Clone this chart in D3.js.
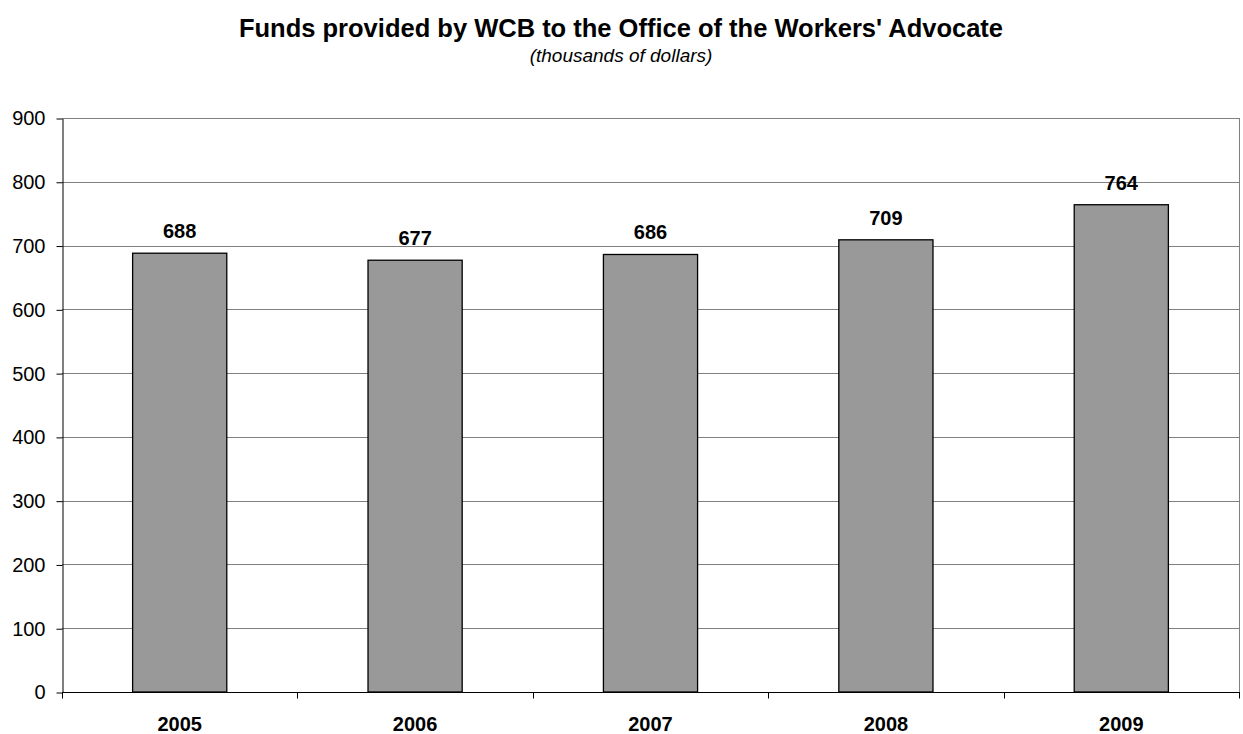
<!DOCTYPE html>
<html>
<head>
<meta charset="utf-8">
<script src="https://cdn.jsdelivr.net/npm/d3@7"></script>
<style>
  body { margin: 0; background: #fff; }
  text { font-family: "Liberation Sans", Arial, sans-serif; }
</style>
</head>
<body>
<svg id="chart" width="1243" height="734"></svg>
<script>
var years = ["2005", "2006", "2007", "2008", "2009"];
var funds = [688, 677, 686, 709, 764];
var yTicks = [0, 100, 200, 300, 400, 500, 600, 700, 800, 900];

var plotLeft = 62, plotRight = 1239, plotTop = 118, plotBottom = 692;

var svg = d3.select("#chart");

var x = d3.scaleBand().domain(years).range([plotLeft, plotRight]).paddingInner(0.6).paddingOuter(0.3);
var xOuter = d3.scaleBand().domain(years).range([plotLeft, plotRight]);
var y = d3.scaleLinear().domain([0, 900]).range([plotBottom, plotTop]);

// title
svg.append("text")
  .attr("x", 621).attr("y", 37)
  .attr("text-anchor", "middle")
  .style("font-size", "25.5px").style("font-weight", "bold")
  .text("Funds provided by WCB to the Office of the Workers' Advocate");
svg.append("text")
  .attr("x", 621).attr("y", 62)
  .attr("text-anchor", "middle")
  .style("font-size", "19px").style("font-style", "italic")
  .text("(thousands of dollars)");

// gridlines
svg.selectAll("line.grid")
  .data(yTicks.filter(function(d){ return d > 0; }))
  .enter().append("line")
  .attr("class", "grid")
  .attr("x1", plotLeft).attr("x2", plotRight)
  .attr("y1", function(d){ return Math.round(y(d)) + 0.5; })
  .attr("y2", function(d){ return Math.round(y(d)) + 0.5; })
  .attr("stroke", "#808080").attr("stroke-width", 1);

// right border
svg.append("line")
  .attr("x1", plotRight + 0.5).attr("x2", plotRight + 0.5)
  .attr("y1", plotTop).attr("y2", plotBottom)
  .attr("stroke", "#808080");

// bars
svg.selectAll("rect.bar")
  .data(years)
  .enter().append("rect")
  .attr("class", "bar")
  .attr("x", function(d){ return x(d); })
  .attr("y", function(d, i){ return y(funds[i]); })
  .attr("width", x.bandwidth())
  .attr("height", function(d, i){ return plotBottom - y(funds[i]); })
  .attr("fill", "#999999")
  .attr("stroke", "#000").attr("stroke-width", 1.3);

// value labels
svg.selectAll("text.val")
  .data(years)
  .enter().append("text")
  .attr("class", "val")
  .attr("x", function(d){ return x(d) + x.bandwidth() / 2; })
  .attr("y", function(d, i){ return y(funds[i]) - 15; })
  .attr("text-anchor", "middle")
  .style("font-size", "20px").style("font-weight", "bold")
  .text(function(d, i){ return funds[i]; });

// y axis
var yAxis = svg.append("g")
  .attr("transform", "translate(" + (plotLeft + 0.5) + ",0.5)")
  .call(d3.axisLeft(y).tickValues(yTicks).tickSize(6).tickPadding(11).tickSizeOuter(0));
yAxis.select(".domain").attr("stroke", "#000");
yAxis.selectAll("text").style("font-size", "20px").attr("fill", "#000");

// x axis
var xAxis = svg.append("g")
  .attr("transform", "translate(0," + (plotBottom + 0.5) + ")");
xAxis.append("line").attr("x1", plotLeft).attr("x2", plotRight + 1).attr("stroke", "#000");
xAxis.selectAll("line.sep")
  .data(years.concat(["end"]))
  .enter().append("line")
  .attr("class", "sep")
  .attr("x1", function(d, i){ return Math.round(plotLeft + i * xOuter.step()) + 0.5; })
  .attr("x2", function(d, i){ return Math.round(plotLeft + i * xOuter.step()) + 0.5; })
  .attr("y1", 0).attr("y2", 6)
  .attr("stroke", "#000");
xAxis.selectAll("text.cat")
  .data(years)
  .enter().append("text")
  .attr("class", "cat")
  .attr("x", function(d){ return xOuter(d) + xOuter.bandwidth() / 2; })
  .attr("y", 38)
  .attr("text-anchor", "middle")
  .style("font-size", "20px").style("font-weight", "bold")
  .text(function(d){ return d; });
</script>
</body>
</html>
